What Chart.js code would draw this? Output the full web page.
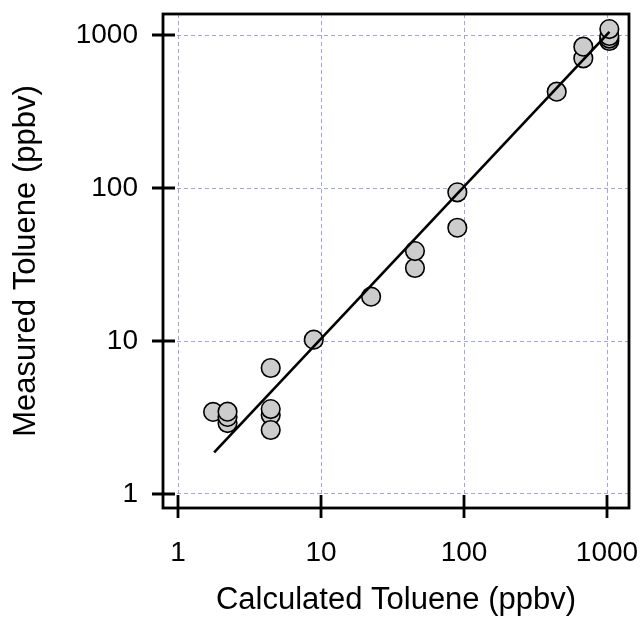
<!DOCTYPE html>
<html>
<head>
<meta charset="utf-8">
<script src="https://cdn.jsdelivr.net/npm/chart.js@4/dist/chart.umd.min.js"></script>
<style>
  html, body { margin: 0; padding: 0; background: #ffffff; }
  #wrap { width: 644px; height: 617px; }
</style>
</head>
<body>
<div id="wrap"><canvas id="c" width="644" height="617"></canvas></div>
<script>
// ---- data ----
const calculated = [1.76, 2.22, 2.22, 2.22, 4.45, 4.45, 4.45, 4.45, 8.9, 22.4, 45.4, 45.4, 89.8, 89.8, 445, 683, 683, 1038, 1038, 1038, 1038];
const measured   = [3.44, 2.91, 3.19, 3.45, 6.66, 3.28, 2.62, 3.59, 10.2, 19.5, 30.0, 38.7, 55, 93.7, 426, 704, 839, 914, 948, 985, 1094];
const fitX = [1.79, 1040];
const fitY = [1.87, 1050];
const tickValues = [1, 10, 100, 1000];
const tickLabels = ["1", "10", "100", "1000"];
const xTitle = "Calculated Toluene (ppbv)";
const yTitle = "Measured Toluene (ppbv)";

const FONT = "'Liberation Sans', Arial, sans-serif";

const framePlugin = {
  id: 'frameTicks',
  afterDraw(chart) {
    const ctx = chart.ctx;
    const a = chart.chartArea;
    const xs = chart.scales.x, ys = chart.scales.y;
    ctx.save();
    ctx.strokeStyle = '#000';
    ctx.lineWidth = 2.8;
    ctx.lineCap = 'butt';
    ctx.strokeRect(a.left, a.top, a.right - a.left, a.bottom - a.top);
    ctx.beginPath();
    tickValues.forEach(v => {
      const py = ys.getPixelForValue(v);
      ctx.moveTo(a.left - 11, py);
      ctx.lineTo(a.left + 12, py);
      const px = xs.getPixelForValue(v);
      ctx.moveTo(px, a.bottom - 13);
      ctx.lineTo(px, a.bottom + 10);
    });
    ctx.stroke();
    ctx.restore();
  }
};

const zeroPad = s => { s.paddingTop = 0; s.paddingBottom = 0; s.paddingLeft = 0; s.paddingRight = 0; };

const points = calculated.map((x, i) => ({ x: x, y: measured[i] }));
const fitLine = fitX.map((x, i) => ({ x: x, y: fitY[i] }));

new Chart(document.getElementById('c'), {
  type: 'scatter',
  data: {
    datasets: [
      {
        type: 'line',
        data: fitLine,
        borderColor: '#000',
        borderWidth: 2.6,
        pointRadius: 0,
        fill: false,
        showLine: true,
        order: 0
      },
      {
        data: points,
        backgroundColor: '#cccccc',
        borderColor: '#000',
        borderWidth: 1.6,
        pointRadius: 9.3,
        pointHoverRadius: 9.3,
        order: 1
      }
    ]
  },
  options: {
    responsive: false,
    devicePixelRatio: 1,
    animation: false,
    events: [],
    layout: { padding: { top: 14, right: 15, left: 0, bottom: 0 } },
    plugins: { legend: { display: false }, tooltip: { enabled: false } },
    scales: {
      x: {
        type: 'logarithmic',
        min: 0.7854,
        max: 1425,
        afterBuildTicks: s => { s.ticks = tickValues.map(v => ({ value: v })); },
        afterFit: s => { s.height = 109; zeroPad(s); },
        grid: { color: '#a4a4e0', lineWidth: 1, drawTicks: false },
        border: { display: false, dash: [4, 3] },
        ticks: {
          autoSkip: false,
          maxRotation: 0,
          padding: 28,
          color: '#000',
          font: { family: FONT, size: 28 },
          callback: (v) => { const i = tickValues.indexOf(v); return i >= 0 ? tickLabels[i] : ''; }
        },
        title: {
          display: true,
          text: xTitle,
          color: '#000',
          font: { family: FONT, size: 31, lineHeight: 1 },
          padding: { top: 0, bottom: 1 }
        }
      },
      y: {
        type: 'logarithmic',
        min: 0.810,
        max: 1372,
        afterBuildTicks: s => { s.ticks = tickValues.map(v => ({ value: v })); },
        afterFit: s => { s.width = 163; zeroPad(s); },
        grid: { color: '#a4a4e0', lineWidth: 1, drawTicks: false },
        border: { display: false, dash: [4, 3] },
        ticks: {
          autoSkip: false,
          padding: 25,
          color: '#000',
          font: { family: FONT, size: 28 },
          callback: (v) => { const i = tickValues.indexOf(v); return i >= 0 ? tickLabels[i] : ''; }
        },
        title: {
          display: true,
          text: yTitle,
          color: '#000',
          font: { family: FONT, size: 31, lineHeight: 1 },
          padding: { top: 11, bottom: 0 }
        }
      }
    }
  },
  plugins: [framePlugin]
});
</script>
</body>
</html>
